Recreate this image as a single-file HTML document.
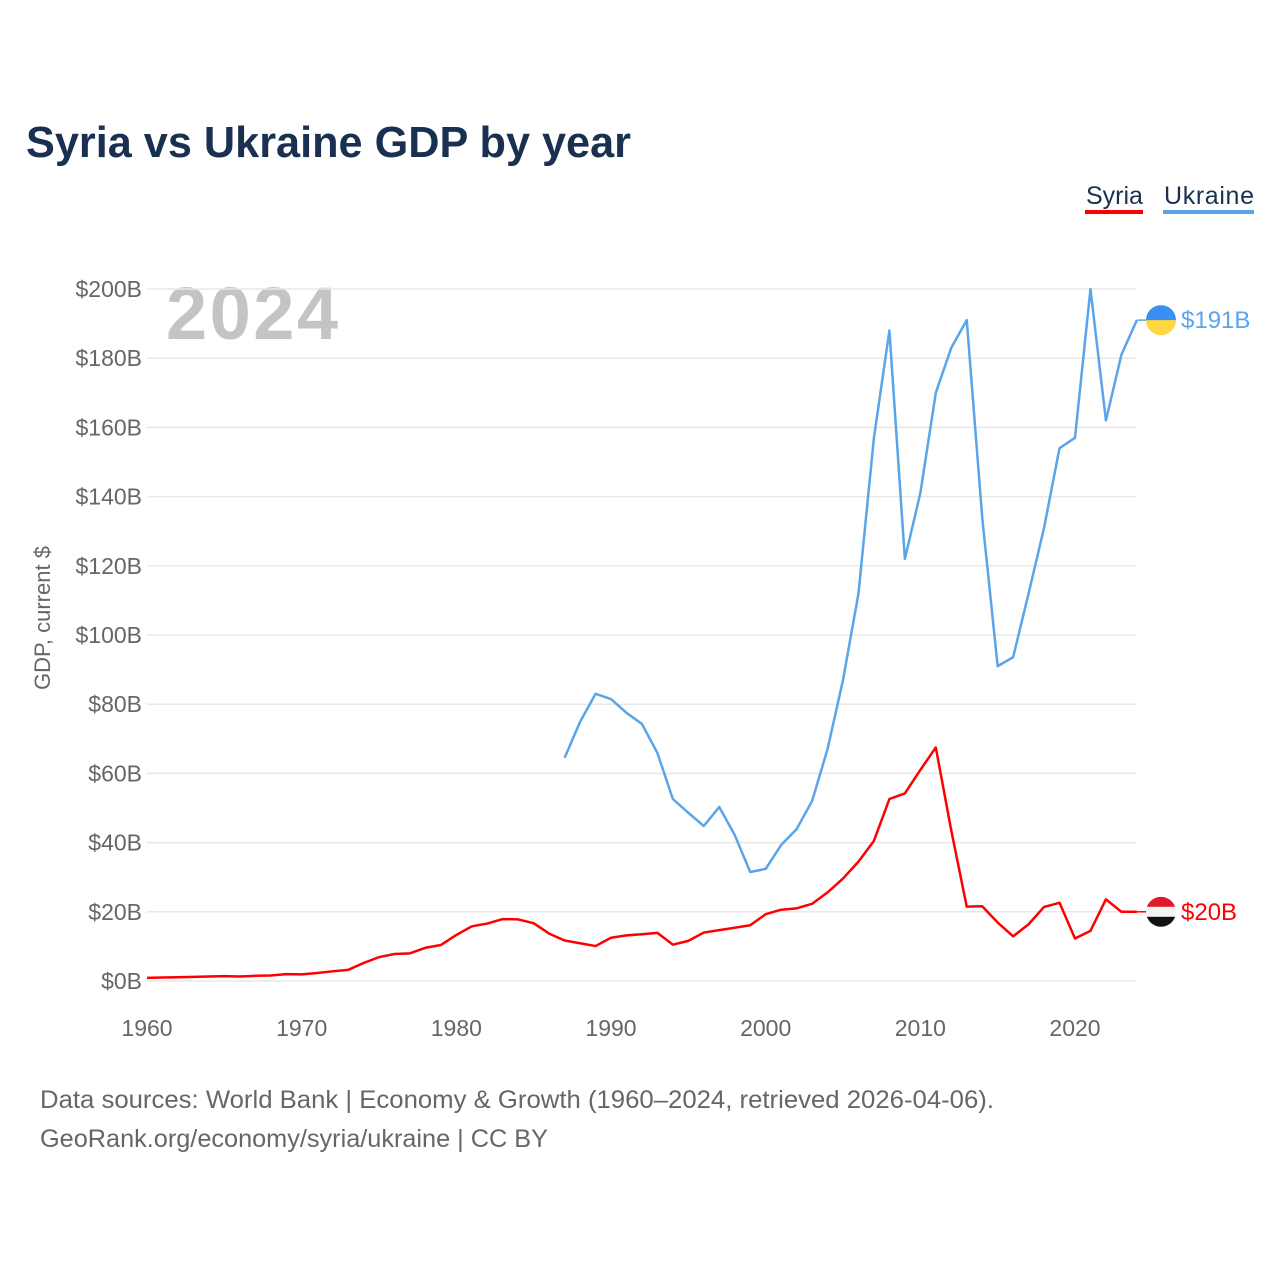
<!DOCTYPE html>
<html><head><meta charset="utf-8"><style>
body{margin:0;background:#fff;}
svg{display:block;font-family:"Liberation Sans",sans-serif;}
</style></head><body>
<svg id="c" width="1280" height="1280" viewBox="0 0 1280 1280">
<text x="26" y="157" font-size="44" font-weight="bold" fill="#1a3050" textLength="605" lengthAdjust="spacingAndGlyphs">Syria vs Ukraine GDP by year</text>
<g>
<text x="1086" y="204" font-size="25" fill="#1a3050">Syria</text>
<rect x="1085" y="210" width="58" height="4" fill="#ff0000"/>
<text x="1164" y="204" font-size="25" fill="#1a3050" textLength="90">Ukraine</text>
<rect x="1163" y="210" width="91" height="4" fill="#5aa5ea"/>
</g>
<text x="166" y="339" font-size="74" font-weight="bold" fill="#c4c4c4" textLength="172">2024</text>
<text transform="translate(50,618) rotate(-90)" text-anchor="middle" font-size="22" fill="#666">GDP, current $</text>
<g id="grid"></g><g id="lines"></g>
<text x="40" y="1108" font-size="25" fill="#666" textLength="954" lengthAdjust="spacingAndGlyphs">Data sources: World Bank | Economy &amp; Growth (1960–2024, retrieved 2026-04-06).</text>
<text x="40" y="1147" font-size="25" fill="#666" textLength="508" lengthAdjust="spacingAndGlyphs">GeoRank.org/economy/syria/ukraine | CC BY</text>
</svg>
<script>
const yTicks=[0,20,40,60,80,100,120,140,160,180,200];
const xTicks=[1960,1970,1980,1990,2000,2010,2020];
const syriaYears=[];for(let y=1960;y<=2024;y++)syriaYears.push(y);
const syria=[0.9,1.0,1.1,1.2,1.3,1.4,1.3,1.5,1.6,2.0,1.9,2.3,2.8,3.2,5.2,6.9,7.8,8.0,9.6,10.4,13.3,15.8,16.6,17.9,17.8,16.7,13.7,11.7,10.9,10.1,12.5,13.2,13.5,13.9,10.5,11.6,14.0,14.7,15.4,16.1,19.3,20.6,21.0,22.3,25.6,29.6,34.5,40.5,52.6,54.2,61,67.5,43.5,21.5,21.6,16.9,12.9,16.4,21.4,22.6,12.3,14.5,23.6,20,20];
const ukraineYears=[];for(let y=1987;y<=2024;y++)ukraineYears.push(y);
const ukraine=[64.5,74.9,83,81.5,77.5,74.3,65.9,52.6,48.6,44.8,50.3,42.2,31.5,32.4,39.3,43.9,52,67,87,112,157,188,122,141,170,183,191,134,91,93.6,112,131,154,157,200,162,181,191];
const NS='http://www.w3.org/2000/svg';
const X=y=>147+(y-1960)*(928/60);
const Y=v=>981-v*3.46;
function mk(t,a,p){const e=document.createElementNS(NS,t);for(const k in a)e.setAttribute(k,a[k]);p.appendChild(e);return e;}
const g=document.getElementById('grid'),L=document.getElementById('lines');
yTicks.forEach(v=>{
 const l=mk('line',{x1:147,x2:1136,y1:Y(v),y2:Y(v),stroke:'#e8e8e8','stroke-width':1.5},g);
 
 
 const t=mk('text',{x:142,y:Y(v)+8,'text-anchor':'end','font-size':23,fill:'#666'},g);
 t.textContent='$'+v+'B';
 
 
});
xTicks.forEach(y=>{
 const t=mk('text',{x:X(y),y:1036,'text-anchor':'middle','font-size':23,fill:'#666'},g);
 t.textContent=y;
 
 
});
function line(years,vals,col,name){
 const p=mk('polyline',{points:years.map((y,i)=>X(y)+','+Y(vals[i])).join(' '),fill:'none',stroke:col,'stroke-width':2.5,'stroke-linejoin':'round'},L);
 
 
}
line(ukraineYears,ukraine,'#5aa5ea','ukraine-line');
line(syriaYears,syria,'#ff0000','syria-line');
function endLabel(v,col,name,flag){
 const y=Y(v),x0=X(2024);
 const c=mk('line',{x1:x0,x2:1148,y1:y,y2:y,stroke:col,'stroke-width':1.5},L);
 
 
 const gg=mk('g',{},L);
 
 
 const cp=mk('clipPath',{id:'cp'+name},gg);mk('circle',{cx:1161,cy:y,r:15},cp);
 const fg=mk('g',{'clip-path':'url(#cp'+name+')'},gg);
 flag.forEach((f,i)=>mk('rect',{x:1146,y:y-15+i*30/flag.length,width:30,height:30/flag.length+0.5,fill:f},fg));
 const t=mk('text',{x:1181,y:y+8,'font-size':24,fill:col},L);
 t.textContent='$'+Math.round(v)+'B';
 
 
}
endLabel(ukraine[ukraine.length-1],'#5aa5ea','ukraine',['#3a8ff0','#ffd740']);
endLabel(syria[syria.length-1],'#ff0000','syria',['#e01a2a','#f4f4f4','#111']);
</script>
</body></html>
